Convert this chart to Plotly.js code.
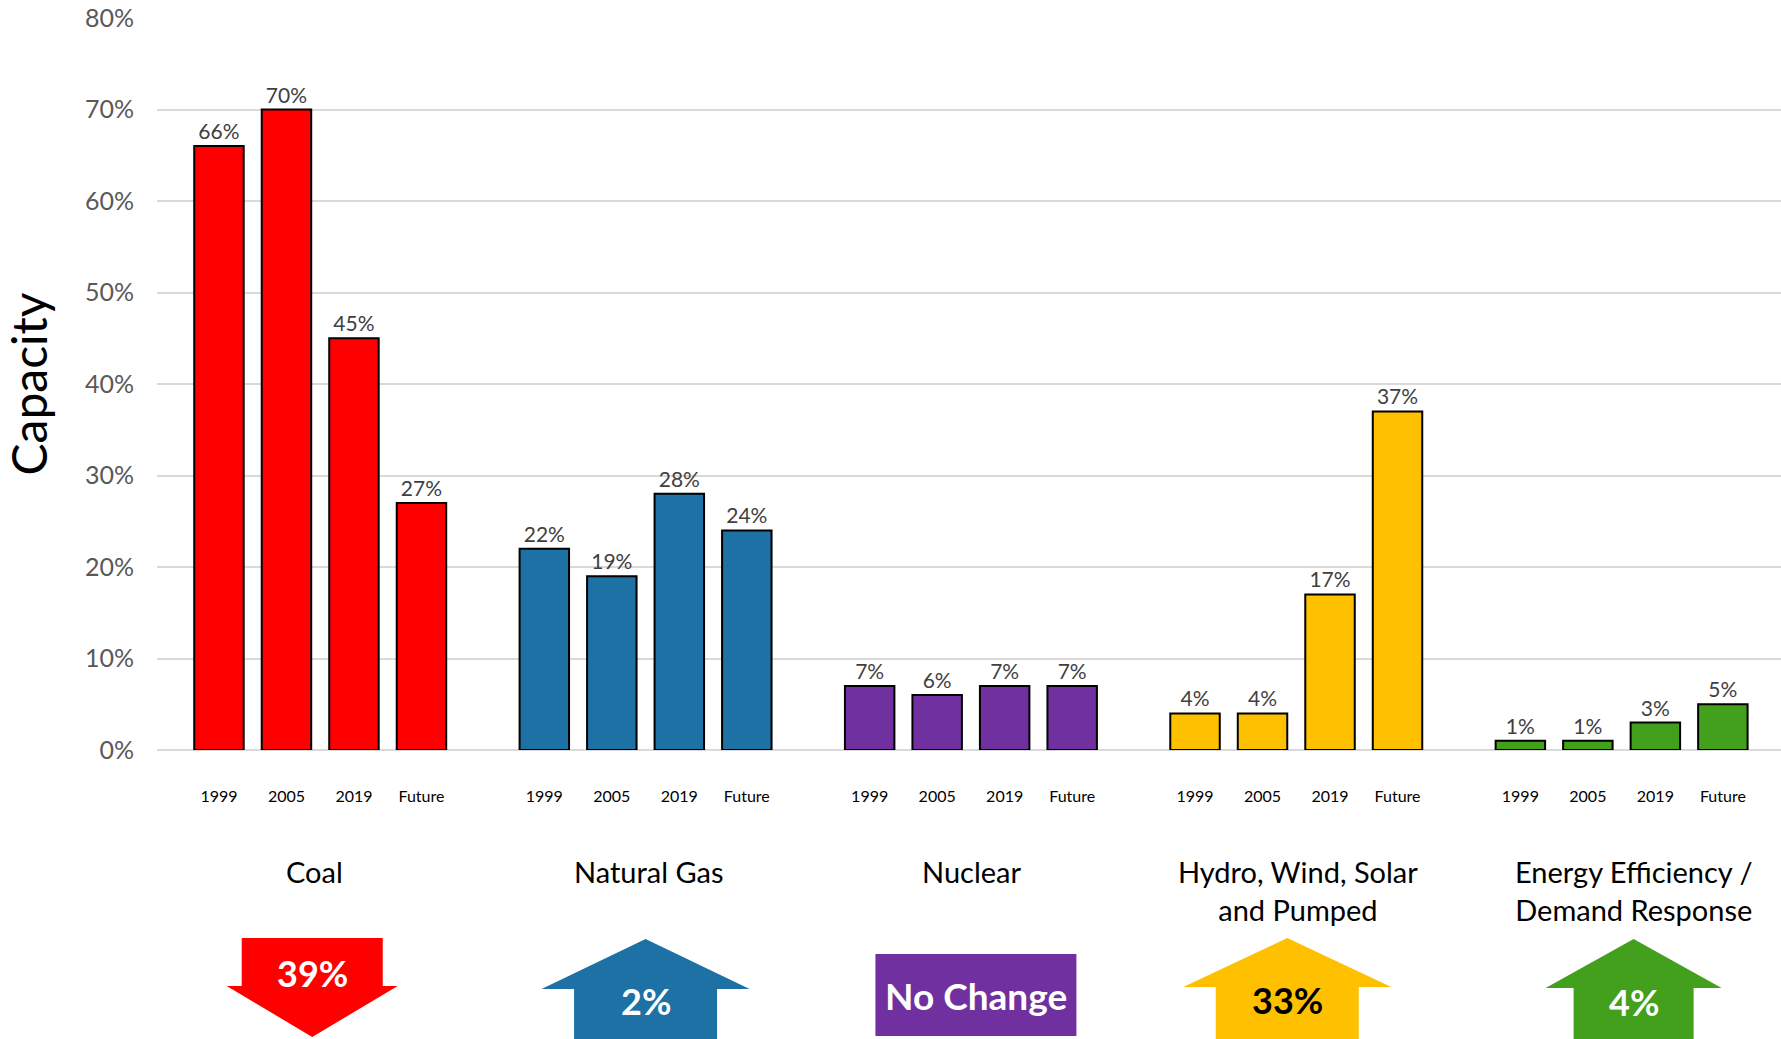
<!DOCTYPE html>
<html>
<head>
<meta charset="utf-8">
<script src="https://cdn.plot.ly/plotly-3.0.1.min.js"></script>
<style>html,body{margin:0;padding:0;background:#fff;}#chart{width:1781px;height:1039px;}</style>
</head>
<body>
<div id="chart"></div>
<script>
// ---- data ----
const technologies = ["Coal", "Natural Gas", "Nuclear", "Hydro, Wind, Solar<br>and Pumped", "Energy Efficiency /<br>Demand Response"];
const periods = ["1999", "2005", "2019", "Future"];
const coal = [0.66, 0.70, 0.45, 0.27];
const naturalGas = [0.22, 0.19, 0.28, 0.24];
const nuclear = [0.07, 0.06, 0.07, 0.07];
const renewables = [0.04, 0.04, 0.17, 0.37];
const efficiency = [0.01, 0.01, 0.03, 0.05];
const changeLabels = ["39%", "2%", "No Change", "33%", "4%"];
const changeDirections = ["down", "up", "none", "up", "up"];

// ---- style ----
const colors = ["#FF0000", "#1D71A5", "#7030A0", "#FFC000", "#42A01C"];
const changeTextColors = ["#FFFFFF", "#FFFFFF", "#FFFFFF", "#000000", "#FFFFFF"];
const FONT = "Lato, 'Open Sans', sans-serif";
const PLOT = {l: 157, t: 18, w: 1624, h: 732};
const UNIT = 67.5;          // pixels per bar slot
const GROUP = 4.82;         // slots between groups
const XMIN = -0.918;
const XMAX = XMIN + PLOT.w / UNIT;
const BARW = 0.733;

const series = [coal, naturalGas, nuclear, renewables, efficiency];
function pos(g, i) { return g * GROUP + i; }
function center(g) { return g * GROUP + 1.5; }
function py(p) { return (PLOT.t + PLOT.h - p) / PLOT.h; }
function dx(p) { return p / UNIT; }

const traces = series.map((vals, g) => ({
  type: "bar",
  x: periods.map((_, i) => pos(g, i)),
  y: vals,
  width: BARW,
  marker: {color: colors[g], line: {color: "#000000", width: 2}},
  text: vals.map(v => Math.round(v * 100) + "%"),
  textposition: "outside",
  textfont: {family: FONT, size: 21, color: "#404040"},
  cliponaxis: false,
  hoverinfo: "skip",
  showlegend: false
}));

const tickvals = [], ticktext = [];
series.forEach((_, g) => periods.forEach((p, i) => { tickvals.push(pos(g, i)); ticktext.push(p); }));

const annotations = [];
const shapes = [];
const arrowShift = [-8, 0, 5, -9, 12];
const labelShift = [-6, 3, 1, 2, 12];
technologies.forEach((t, g) => {
  annotations.push({
    xref: "x", yref: "paper", x: center(g), y: py(t.includes("<br>") ? 890 : 871),
    xshift: labelShift[g], text: t, showarrow: false,
    font: {family: FONT, size: 29, color: "#000000"}, align: "center", yanchor: "middle"
  });
});

// arrow / box geometry (pixels)
const geom = [
  {top: 938, base: 986, tip: 1037, shaftHalf: 70.5, headHalf: 85.5, textY: 973},
  {top: 939, base: 989, bottom: 1039, shaftHalf: 71.5, headHalf: 104, textY: 1001},
  {top: 954, bottom: 1036, half: 100.5, textY: 995},
  {top: 938, base: 987, bottom: 1039, shaftHalf: 71.5, headHalf: 104, textY: 1000},
  {top: 939, base: 988, bottom: 1039, shaftHalf: 60, headHalf: 88, textY: 1002}
];
changeDirections.forEach((d, g) => {
  const c = center(g) + dx(arrowShift[g]);
  const k = geom[g];
  let path;
  if (d === "down") {
    path = `M ${c - dx(k.shaftHalf)},${py(k.top)} L ${c + dx(k.shaftHalf)},${py(k.top)} L ${c + dx(k.shaftHalf)},${py(k.base)} L ${c + dx(k.headHalf)},${py(k.base)} L ${c},${py(k.tip)} L ${c - dx(k.headHalf)},${py(k.base)} L ${c - dx(k.shaftHalf)},${py(k.base)} Z`;
  } else if (d === "up") {
    path = `M ${c},${py(k.top)} L ${c + dx(k.headHalf)},${py(k.base)} L ${c + dx(k.shaftHalf)},${py(k.base)} L ${c + dx(k.shaftHalf)},${py(k.bottom)} L ${c - dx(k.shaftHalf)},${py(k.bottom)} L ${c - dx(k.shaftHalf)},${py(k.base)} L ${c - dx(k.headHalf)},${py(k.base)} Z`;
  } else {
    path = `M ${c - dx(k.half)},${py(k.top)} L ${c + dx(k.half)},${py(k.top)} L ${c + dx(k.half)},${py(k.bottom)} L ${c - dx(k.half)},${py(k.bottom)} Z`;
  }
  shapes.push({type: "path", xref: "x", yref: "paper", path: path, fillcolor: colors[g], line: {width: 0}, layer: "above"});
  annotations.push({
    xref: "x", yref: "paper", x: c, y: py(k.textY), text: "<b>" + changeLabels[g] + "</b>",
    showarrow: false, font: {family: FONT, size: d === "none" ? 37 : 36, color: changeTextColors[g]},
    yanchor: "middle"
  });
});

const layout = {
  width: 1781, height: 1039,
  margin: {l: PLOT.l, r: 1781 - PLOT.l - PLOT.w, t: PLOT.t, b: 1039 - PLOT.t - PLOT.h, pad: 0},
  paper_bgcolor: "#ffffff", plot_bgcolor: "#ffffff",
  font: {family: FONT},
  showlegend: false,
  xaxis: {
    range: [XMIN, XMAX], tickmode: "array", tickvals: tickvals, ticktext: ticktext,
    tickfont: {family: FONT, size: 16, color: "#000000"},
    showgrid: false, zeroline: false, showline: false, ticks: "", ticklabelstandoff: 35,
    fixedrange: true
  },
  yaxis: {
    range: [0, 0.8], dtick: 0.1, tickformat: ".0%",
    tickfont: {family: FONT, size: 25, color: "#595959"},
    gridcolor: "#D9D9D9", gridwidth: 2, zeroline: true, zerolinecolor: "#D9D9D9", zerolinewidth: 2,
    showline: false, ticks: "", ticklabelstandoff: 22,
    title: {text: "Capacity", font: {family: FONT, size: 48, color: "#000000"}, standoff: 22},
    fixedrange: true
  },
  shapes: shapes,
  annotations: annotations
};

Plotly.newPlot("chart", traces, layout, {displayModeBar: false, staticPlot: true});
</script>
</body>
</html>
